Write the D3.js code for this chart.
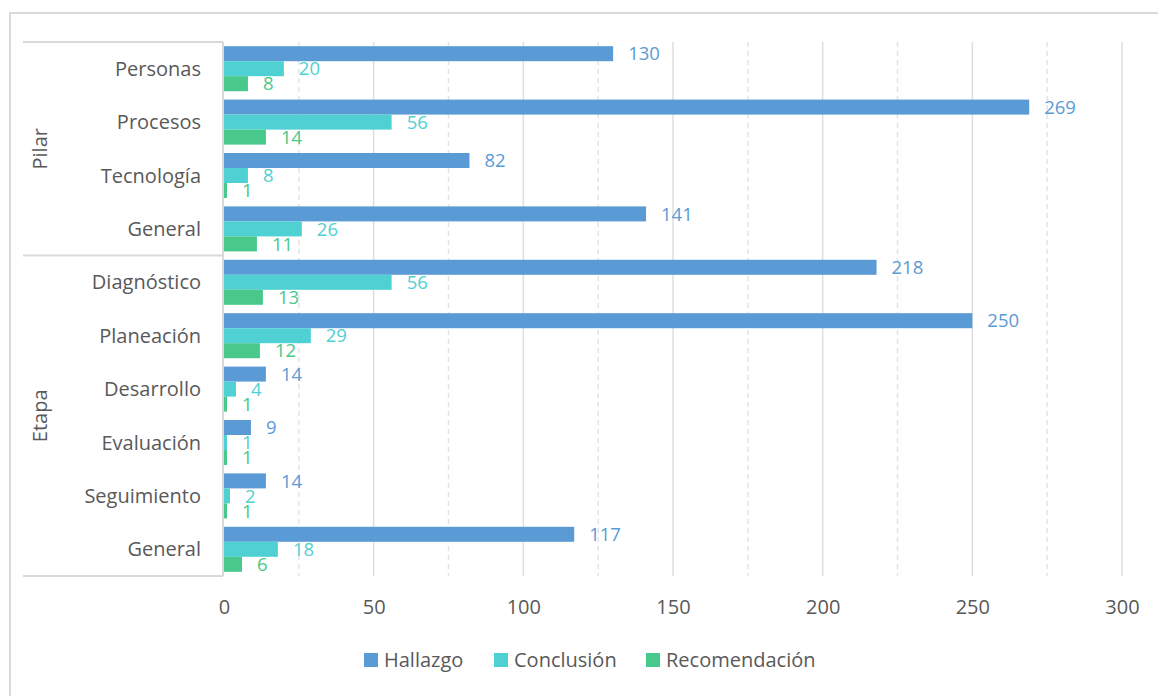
<!DOCTYPE html>
<html>
<head>
<meta charset="utf-8">
<script src="https://cdn.jsdelivr.net/npm/d3@7"></script>
<style>
  body { margin: 0; background: #fff; }
  svg text { font-family: "Open Sans", Lato, sans-serif; }
</style>
</head>
<body>
<svg></svg>
<script>
// categories, top to bottom
var categories = ["Personas", "Procesos", "Tecnología", "General",
                  "Diagnóstico", "Planeación", "Desarrollo", "Evaluación", "Seguimiento", "General "]
var groups = [{name: "Pilar", from: 0, to: 4}, {name: "Etapa", from: 4, to: 10}]
var seriesNames = ["Hallazgo", "Conclusión", "Recomendación"]
var hallazgo = [130, 269, 82, 141, 218, 250, 14, 9, 14, 117]
var conclusion = [20, 56, 8, 26, 56, 29, 4, 1, 2, 18]
var recomendacion = [8, 14, 1, 11, 13, 12, 1, 1, 1, 6]
var colors = ["#5b9bd5", "#4fd1d3", "#48c98b"]
var xTicks = [0, 50, 100, 150, 200, 250, 300]

var screen = {width: 1158, height: 696}
var plot = {left: 224, right: 1122, top: 42, bottom: 576}

var svg = d3.select("svg")
    .attr("width", screen.width)
    .attr("height", screen.height)

// outer chart border
svg.append("rect")
    .attr("x", 10).attr("y", 13)
    .attr("width", 1160).attr("height", 700)
    .attr("fill", "none")
    .attr("stroke", "#d9d9d9")
    .attr("stroke-width", 2)

var xScale = d3.scaleLinear()
    .domain([0, 300])
    .range([plot.left, plot.right])

var yScale = d3.scaleBand()
    .domain(d3.range(categories.length))
    .range([plot.top, plot.bottom])
    .paddingInner(0.157)
    .paddingOuter(0.0785)

var sub = d3.scaleBand()
    .domain([0, 1, 2])
    .range([0, yScale.bandwidth()])

// gridlines: solid majors, dashed minors
var minor = d3.range(25, 301, 50)
svg.append("g").selectAll("line")
    .data(minor)
    .enter()
    .append("line")
    .attr("x1", function(d){return xScale(d)})
    .attr("x2", function(d){return xScale(d)})
    .attr("y1", plot.top).attr("y2", plot.bottom)
    .attr("stroke", "#e4e4e4")
    .attr("stroke-width", 1.5)
    .attr("stroke-dasharray", "5,4")

svg.append("g").selectAll("line")
    .data(xTicks.slice(1))
    .enter()
    .append("line")
    .attr("x1", function(d){return xScale(d)})
    .attr("x2", function(d){return xScale(d)})
    .attr("y1", plot.top).attr("y2", plot.bottom)
    .attr("stroke", "#dedede")
    .attr("stroke-width", 1.5)

// x axis labels
var xAxis = d3.axisBottom(xScale).tickValues(xTicks).tickSize(0).tickPadding(0)
var gx = svg.append("g")
    .attr("transform", "translate(0," + 614 + ")")
    .call(xAxis)
gx.select(".domain").remove()
gx.selectAll("text")
    .attr("dy", 0)
    .style("font-size", "20px")
    .style("font-family", "'Open Sans', sans-serif")
    .attr("fill", "#595959")

// category box lines
var lineColor = "#d9d9d9"
svg.append("line")
    .attr("x1", plot.left - 1).attr("x2", plot.left - 1)
    .attr("y1", plot.top).attr("y2", plot.bottom)
    .attr("stroke", lineColor).attr("stroke-width", 2)
var seps = [plot.top, yScale.step() * 4 + plot.top, plot.bottom]
svg.append("g").selectAll("line")
    .data(seps)
    .enter()
    .append("line")
    .attr("x1", 23).attr("x2", plot.left - 1)
    .attr("y1", function(d){return d}).attr("y2", function(d){return d})
    .attr("stroke", lineColor).attr("stroke-width", 2)

// category labels
svg.append("g").selectAll("text")
    .data(categories)
    .enter()
    .append("text")
    .attr("x", 201)
    .attr("y", function(d, i){return yScale(i) + yScale.bandwidth() / 2})
    .attr("dy", "0.35em")
    .attr("text-anchor", "end")
    .style("font-size", "20px")
    .attr("fill", "#595959")
    .text(function(d){return d.trim()})

// group labels
svg.append("g").selectAll("text")
    .data(groups)
    .enter()
    .append("text")
    .attr("transform", function(d){
        var y = plot.top + yScale.step() * (d.from + d.to) / 2
        return "translate(40," + y + ") rotate(-90)"
    })
    .attr("dy", "0.35em")
    .attr("text-anchor", "middle")
    .style("font-size", "20px")
    .attr("fill", "#595959")
    .text(function(d){return d.name})

// bars
var series = [hallazgo, conclusion, recomendacion]
series.forEach(function(values, s)
{
    var g = svg.append("g")
    g.selectAll("rect")
        .data(values)
        .enter()
        .append("rect")
        .attr("x", xScale(0))
        .attr("y", function(d, i){return yScale(i) + sub(s)})
        .attr("width", function(d){return xScale(d) - xScale(0)})
        .attr("height", sub.bandwidth())
        .attr("fill", colors[s])
    g.selectAll("text")
        .data(values)
        .enter()
        .append("text")
        .attr("x", function(d){return xScale(d) + 15})
        .attr("y", function(d, i){return yScale(i) + sub(s) + sub.bandwidth() / 2})
        .attr("dy", "0.36em")
        .style("font-size", "18.5px")
        .attr("fill", colors[s])
        .text(function(d){return d})
})

// legend
var legendX = [364, 494, 646]
var legend = svg.append("g").selectAll("g")
    .data(seriesNames)
    .enter()
    .append("g")
    .attr("transform", function(d, i){return "translate(" + legendX[i] + ",660)"})
legend.append("rect")
    .attr("x", 0).attr("y", -7)
    .attr("width", 14).attr("height", 14)
    .attr("fill", function(d, i){return colors[i]})
legend.append("text")
    .attr("x", 20)
    .attr("dy", "0.35em")
    .style("font-size", "20px")
    .attr("fill", "#595959")
    .text(function(d){return d})
</script>
</body>
</html>
